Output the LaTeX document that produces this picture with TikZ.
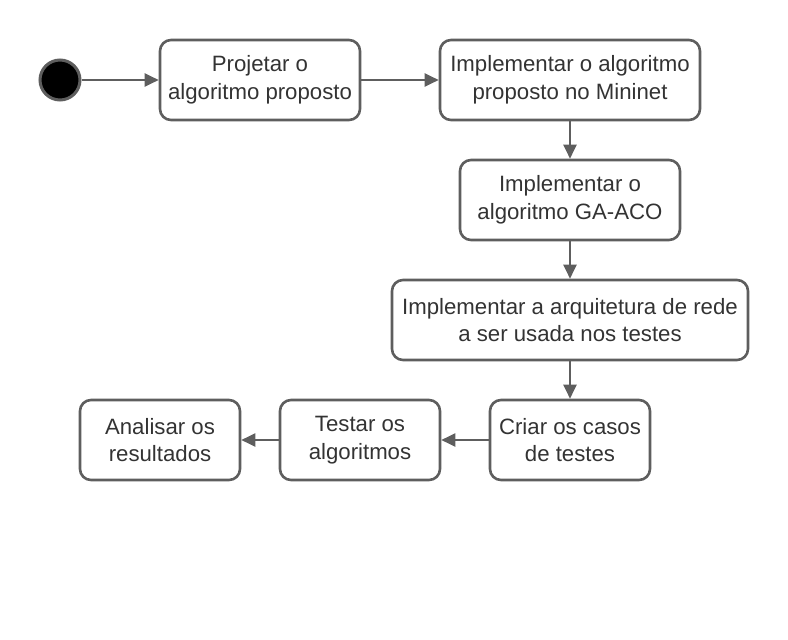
\documentclass[tikz,border=0pt]{standalone}
\usepackage{fontspec}
\setmainfont{Liberation Sans}
\usetikzlibrary{arrows.meta}
\definecolor{linegray}{HTML}{5E5E5E}
\definecolor{textgray}{HTML}{333333}
\tikzset{
    activity/.style={draw=linegray, line width=2.6pt, rounded corners=11pt,
        minimum height=80pt, align=center, text=textgray,
        font=\fontsize{22.2pt}{27.5pt}\selectfont},
    flow/.style={draw=linegray, line width=2pt,
        -{Triangle[length=14pt,width=13pt]}}
}
\begin{document}
\begin{tikzpicture}[x=1pt,y=-1pt]
    \useasboundingbox (0,0) rectangle (788,640);
    \node [circle, fill=black, draw=linegray, line width=3pt,
        minimum size=40pt, inner sep=0pt] (start) at (60,80) {};
    \node [activity, minimum width=200pt] (projetar) at (260,80)
        {Projetar o\\algoritmo proposto};
    \node [activity, minimum width=260pt] (mininet) at (570,80)
        {Implementar o algoritmo\\proposto no Mininet};
    \node [activity, minimum width=220pt] (gaaco) at (570,200)
        {Implementar o\\algoritmo GA-ACO};
    \node [activity, minimum width=356pt] (arquitetura) at (570,320)
        {Implementar a arquitetura de rede\\a ser usada nos testes};
    \node [activity, minimum width=160pt] (casos) at (570,440)
        {Criar os casos\\de testes};
    \node [activity, minimum width=160pt] (testar) at (360,440)
        {Testar os\\algoritmos};
    \node [activity, minimum width=160pt] (analisar) at (160,440)
        {Analisar os\\resultados};

    \draw [flow] (start) -- (projetar);
    \draw [flow] (projetar) -- (mininet);
    \draw [flow] (mininet) -- (gaaco);
    \draw [flow] (gaaco) -- (arquitetura);
    \draw [flow] (arquitetura) -- (casos);
    \draw [flow] (casos) -- (testar);
    \draw [flow] (testar) -- (analisar);
\end{tikzpicture}
\end{document}
